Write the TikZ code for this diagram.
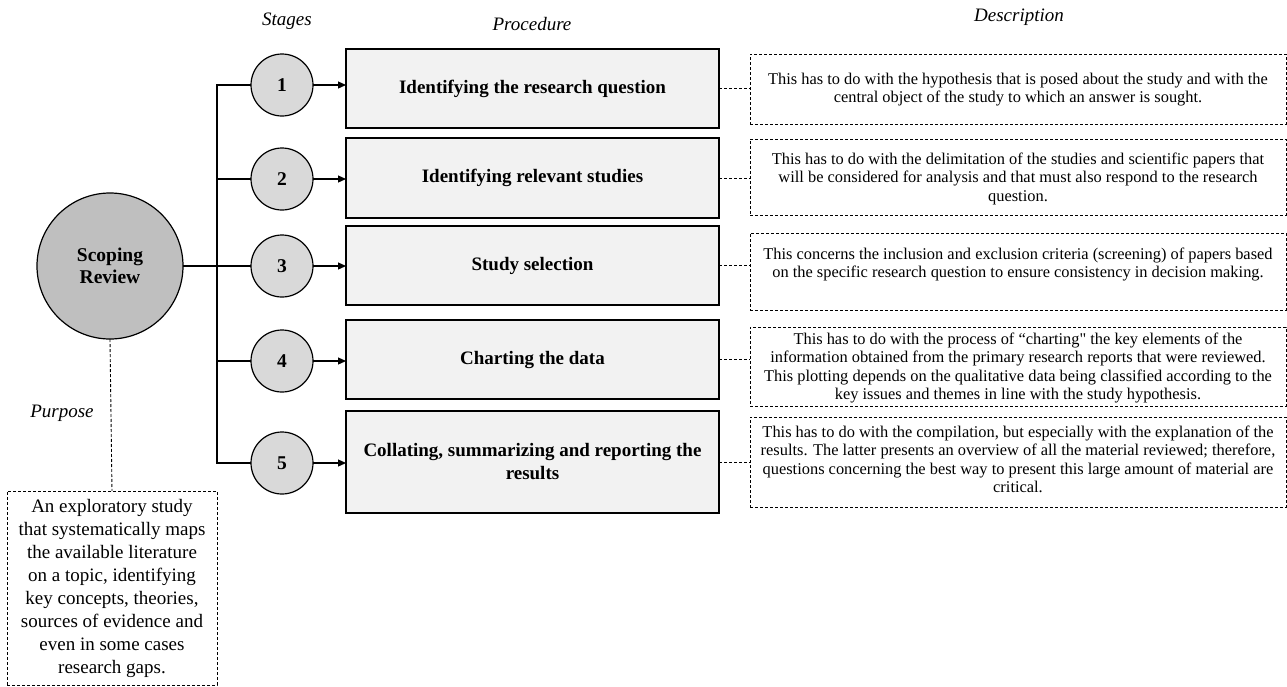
\documentclass[tikz,border=0pt]{standalone}
\usepackage{fontspec}
\setmainfont{Liberation Serif}
\usetikzlibrary{arrows.meta}
\definecolor{hubgray}{HTML}{BFBFBF}
\definecolor{stagegray}{HTML}{D9D9D9}
\definecolor{procgray}{HTML}{F2F2F2}
\begin{document}
\begin{tikzpicture}[x=1pt,y=-1pt,
  every node/.style={outer sep=0pt, inner sep=0pt},
  hdr/.style={font=\fontsize{19}{23}\selectfont\itshape},
  hub/.style={circle, draw, line width=1.2pt, fill=hubgray, minimum size=146pt,
    align=center, font=\fontsize{19.5}{22}\selectfont\bfseries},
  stage/.style={circle, draw, line width=1.2pt, fill=stagegray, minimum size=62pt,
    font=\fontsize{19.5}{23}\selectfont\bfseries},
  proc/.style={rectangle, draw, line width=1.2pt, fill=procgray, minimum width=373pt,
    align=center, font=\fontsize{19}{23}\selectfont\bfseries},
  frame/.style={rectangle, draw, line width=0.9pt, dash pattern=on 3pt off 2pt,
    minimum width=536pt},
  desc/.style={align=center, font=\fontsize{16.4}{18.4}\selectfont},
  purp/.style={rectangle, draw, line width=0.9pt, dash pattern=on 3pt off 2pt,
    minimum width=210pt, minimum height=194pt, align=center,
    font=\fontsize{19}{23}\selectfont},
  conn/.style={line width=1.2pt},
  arr/.style={line width=1.2pt, -{Triangle[length=8pt,width=7pt]}},
  dline/.style={line width=0.9pt, dash pattern=on 3pt off 2pt}]
\useasboundingbox (0,0) rectangle (1287,686);

% column headings
\node[hdr] (hStages) at (287,21) {Stages};
\node[hdr] (hProc) at (532,24) {Procedure};
\node[hdr] (hDesc) at (1019,17) {Description};
\node[hdr] (hPurp) at (62,413) {Purpose};

% central circle and the five stages
\node[hub] (hub) at (110,266) {Scoping\\Review};
\node[stage] (s1) at (282,85) {1};
\node[stage] (s2) at (282,179) {2};
\node[stage] (s3) at (282,266) {3};
\node[stage] (s4) at (282,361) {4};
\node[stage] (s5) at (282,463) {5};

% procedure boxes
\node[proc, minimum height=79pt] (b1) at (532.5,88.5) {Identifying the research question};
\node[proc, minimum height=80pt] (b2) at (532.5,178) {Identifying relevant studies};
\node[proc, minimum height=79pt] (b3) at (532.5,265.5) {Study selection};
\node[proc, minimum height=79pt] (b4) at (532.5,359.5) {Charting the data};
\node[proc, minimum height=102pt] (b5) at (532.5,462) {Collating, summarizing and reporting the\\results};

% description frames
\node[frame, minimum height=70pt] (d1) at (1018,89) {};
\node[frame, minimum height=76pt] (d2) at (1018,177) {};
\node[frame, minimum height=77pt] (d3) at (1018,271.5) {};
\node[frame, minimum height=79pt] (d4) at (1018,366.5) {};
\node[frame, minimum height=90pt] (d5) at (1018,462) {};

% description texts
\node[desc, anchor=north] (t1) at ([yshift=-19pt]d1.north)
  {This has to do with the hypothesis that is posed about the study and with the\\
   central object of the study to which an answer is sought.};
\node[desc, anchor=north] (t2) at ([yshift=-14pt]d2.north)
  {This has to do with the delimitation of the studies and scientific papers that\\
   will be considered for analysis and that must also respond to the research\\
   question.};
\node[desc, anchor=north] (t3) at ([yshift=-15pt]d3.north)
  {This concerns the inclusion and exclusion criteria (screening) of papers based\\
   on the specific research question to ensure consistency in decision making.};
\node[desc, anchor=north] (t4) at ([yshift=-6pt]d4.north)
  {This has to do with the process of “charting\textquotedbl{} the key elements of the\\
   information obtained from the primary research reports that were reviewed.\\
   This plotting depends on the qualitative data being classified according to the\\
   key issues and themes in line with the study hypothesis.};
\node[desc, anchor=north] (t5) at ([yshift=-9pt]d5.north)
  {This has to do with the compilation, but especially with the explanation of the\\
   results. The latter presents an overview of all the material reviewed; therefore,\\
   questions concerning the best way to present this large amount of material are\\
   critical.};

% purpose box
\node[purp] (pbox) at (112,588)
  {An exploratory study\\that systematically maps\\the available literature\\on a topic, identifying\\key concepts, theories,\\sources of evidence and\\even in some cases\\research gaps.};

% branching bus
\coordinate (bus) at (217,266);
\draw[conn] (s1.west) -- (s1.west -| bus) -- (s5.west -| bus) -- (s5.west);
\draw[conn] (s2.west) -- (s2.west -| bus);
\draw[conn] (s4.west) -- (s4.west -| bus);
\draw[conn] (hub.east) -- (s3.west);

% stage to procedure arrows
\draw[arr] (s1.east) -- (s1.east -| b1.west);
\draw[arr] (s2.east) -- (s2.east -| b2.west);
\draw[arr] (s3.east) -- (s3.east -| b3.west);
\draw[arr] (s4.east) -- (s4.east -| b4.west);
\draw[arr] (s5.east) -- (s5.east -| b5.west);

% procedure to description links
\draw[dline] (b1.east) -- (b1.east -| d1.west);
\draw[dline] (b2.east) -- (b2.east -| d2.west);
\draw[dline] (b3.east) -- (b3.east -| d3.west);
\draw[dline] (b4.east) -- (b4.east -| d4.west);
\draw[dline] (b5.east) -- (b5.east -| d5.west);

% purpose link
\draw[dline] (hub.south) -- (pbox.north);
\end{tikzpicture}
\end{document}
